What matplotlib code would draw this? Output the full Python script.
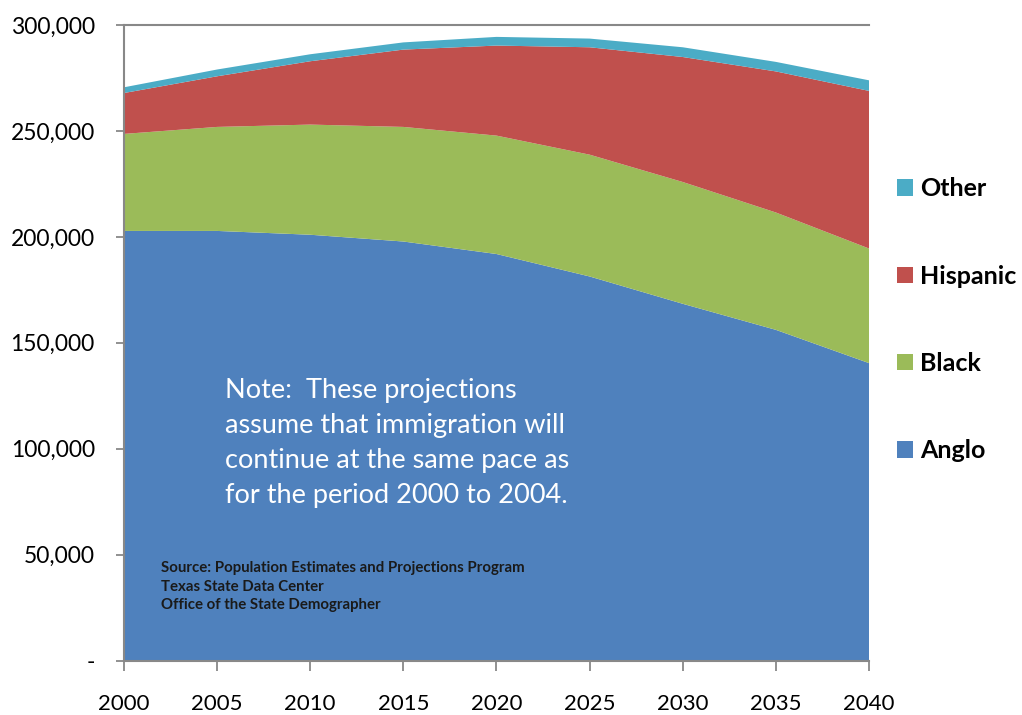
import numpy as np
import matplotlib.pyplot as plt
from matplotlib.patches import Patch
from matplotlib.ticker import FuncFormatter

plt.rcParams['font.family'] = ['Lato', 'DejaVu Sans']

years = [2000, 2005, 2010, 2015, 2020, 2025, 2030, 2035, 2040]

# population by group
anglo    = [202800, 202800, 201000, 197800, 191900, 181300, 168400, 156100, 140400]
black    = [45800, 49100, 52000, 54100, 55900, 57500, 57500, 55400, 54100]
hispanic = [19300, 23900, 29900, 36500, 42500, 50700, 59000, 66600, 74400]
other    = [2700, 3200, 3300, 3400, 4100, 4100, 4600, 4500, 5000]

groups = ['Anglo', 'Black', 'Hispanic', 'Other']
colors = ['#4F81BD', '#9BBB59', '#C0504D', '#4BACC6']

fig = plt.figure(figsize=(10.22, 7.15), dpi=100)
ax = fig.add_axes([0.1213, 0.0762, 0.7290, 0.8888])

ax.stackplot(years, anglo, black, hispanic, other, colors=colors, labels=groups,
             linewidth=0)

ax.set_xlim(2000, 2040)
ax.set_ylim(0, 300000)
ax.set_xticks(years)
ax.set_yticks(np.arange(0, 300001, 50000))
ax.yaxis.set_major_formatter(FuncFormatter(lambda v, p: '-' if v == 0 else f'{int(v):,}'))

for s in ['left', 'bottom', 'top']:
    ax.spines[s].set_color('#888888')
    ax.spines[s].set_linewidth(1.5)
ax.spines['right'].set_visible(False)
ax.tick_params(axis='both', colors='#888888', labelcolor='black',
               direction='out', width=1.3)
ax.tick_params(axis='y', length=6, pad=15, labelsize=16.5)
ax.tick_params(axis='x', length=7, pad=17, labelsize=16)

ax.text(2005.4, 133500, 'Note:  These projections\nassume that immigration will\n'
        'continue at the same pace as\nfor the period 2000 to 2004.',
        color='white', fontsize=19.5, va='top', ha='left', linespacing=1.5)

ax.text(2002.0, 46800, 'Source: Population Estimates and Projections Program\n'
        'Texas State Data Center\nOffice of the State Demographer',
        color='#1a1a1a', fontsize=10.8, fontweight='bold', va='top', ha='left',
        linespacing=1.4)

handles = [Patch(facecolor=c, label=g) for g, c in zip(groups, colors)][::-1]
fig.legend(handles=handles, loc='upper left', bbox_to_anchor=(0.868, 0.766),
           frameon=False, prop={'weight': 'bold', 'size': 18},
           handlelength=0.64, handleheight=0.64, handletextpad=0.28,
           labelspacing=2.57, borderaxespad=0)

fig.savefig('out.png', dpi=100)
